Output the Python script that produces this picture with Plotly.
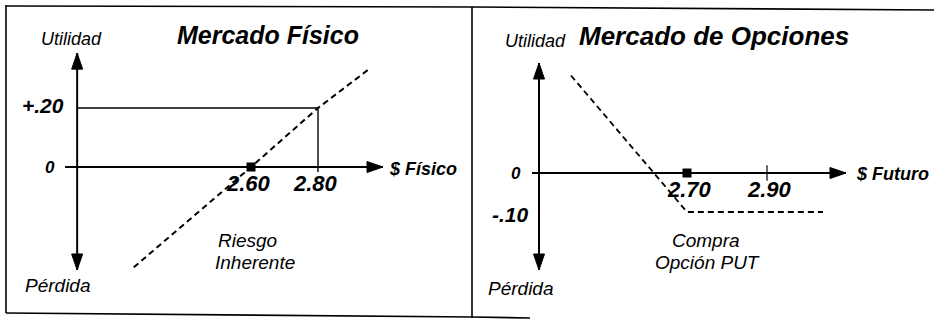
import plotly.graph_objects as go

# ---------------- data ----------------
# Mercado Físico: utility vs physical price (dashed line)
fis_price = [2.25, 2.60, 2.80, 2.95]
fis_pnl = [-0.34, 0.00, 0.20, 0.33]
fis_ticks = [2.60, 2.80]
fis_tick_labels = ["2.60", "2.80"]
fis_level = 0.20
fis_level_label = "+.20"
fis_mark = 2.60

# Mercado de Opciones: bought PUT payoff
opt_price = [2.41, 2.70, 3.04]
opt_pnl = [0.25, -0.10, -0.10]
opt_ticks = [2.70, 2.90]
opt_tick_labels = ["2.70", "2.90"]
opt_level = -0.10
opt_level_label = "-.10"
opt_mark = 2.70

# ---------------- layout constants ----------------
W, H = 934, 320
FONT = "Liberation Sans, Arial, Helvetica, sans-serif"

# axis ranges (both panels overlay whole figure)
X1 = [1.8507, 4.6388]; Y1 = [-0.5186, 0.5661]
X2 = [0.9825, 3.3175]; Y2 = [-0.3769, 0.4436]

# axis-cross positions (in data units of each panel)
L_AX_X, L_AX_X0, L_AX_X1 = 2.081, 2.045, 2.994
L_AX_Y0, L_AX_Y1 = -0.349, 0.386
R_AX_X, R_AX_X0, R_AX_X1 = 2.33, 2.3125, 3.0975
R_AX_Y0, R_AX_Y1 = -0.2487, 0.282

def px(x):
    return x / W

def py(y):
    return 1 - y / H

fig = go.Figure()

dash = "6px,4px"
fig.add_trace(go.Scatter(x=fis_price, y=fis_pnl, mode="lines",
                         line=dict(color="black", width=2, dash=dash),
                         xaxis="x", yaxis="y", hoverinfo="skip"))
fig.add_trace(go.Scatter(x=[fis_mark], y=[0], mode="markers",
                         marker=dict(symbol="square", size=9, color="black"),
                         xaxis="x", yaxis="y", hoverinfo="skip"))
fig.add_trace(go.Scatter(x=opt_price, y=opt_pnl, mode="lines",
                         line=dict(color="black", width=1.8, dash=dash),
                         xaxis="x2", yaxis="y2", hoverinfo="skip"))
fig.add_trace(go.Scatter(x=[opt_mark], y=[0], mode="markers",
                         marker=dict(symbol="square", size=9, color="black"),
                         xaxis="x2", yaxis="y2", hoverinfo="skip"))

shapes = []
LW = 1.8

def line(x0, y0, x1, y1, xref, yref, w=LW):
    shapes.append(dict(type="line", x0=x0, y0=y0, x1=x1, y1=y1, xref=xref, yref=yref,
                       line=dict(color="black", width=w)))

def head(x, y, xref, yref, direction):
    paths = {
        "up": "M0,0 L-5.5,-16 L5.5,-16 Z",
        "down": "M0,0 L-5.5,16 L5.5,16 Z",
        "right": "M0,0 L-16,5.5 L-16,-5.5 Z",
    }
    shapes.append(dict(type="path", path=paths[direction], xref=xref, yref=yref,
                       xsizemode="pixel", ysizemode="pixel", xanchor=x, yanchor=y,
                       fillcolor="black", line=dict(color="black", width=1)))

# frame (paper coordinates)
line(px(6), py(5), px(6), py(313), "paper", "paper", 1.6)
line(px(6), py(6), px(472), py(7), "paper", "paper", 1.6)
line(px(472), py(7), px(934), py(10), "paper", "paper", 1.6)
line(px(472), py(7), px(472), py(318), "paper", "paper", 1.6)
line(px(6), py(313), px(472), py(317), "paper", "paper", 1.6)
line(px(472), py(317), px(530), py(318), "paper", "paper", 1.6)

# left axes
line(L_AX_X, L_AX_Y0, L_AX_X, L_AX_Y1, "x", "y", 2)
line(L_AX_X0, 0, L_AX_X1, 0, "x", "y", 2)
head(L_AX_X, L_AX_Y1, "x", "y", "up")
head(L_AX_X, L_AX_Y0, "x", "y", "down")
head(L_AX_X1, 0, "x", "y", "right")
# +.20 guide lines
line(L_AX_X, fis_level, fis_ticks[1], fis_level, "x", "y", 1.4)
line(fis_ticks[1], fis_level, fis_ticks[1], -0.017, "x", "y", 1.4)

# right axes
line(R_AX_X, R_AX_Y0, R_AX_X, R_AX_Y1, "x2", "y2", 2)
line(R_AX_X0, 0, R_AX_X1, 0, "x2", "y2", 2)
head(R_AX_X, R_AX_Y1, "x2", "y2", "up")
head(R_AX_X, R_AX_Y0, "x2", "y2", "down")
head(R_AX_X1, 0, "x2", "y2", "right")
line(opt_ticks[1], -0.02, opt_ticks[1], 0.02, "x2", "y2", 1.2)

anns = []

def txt(text, x, y, size, bold=False, xanchor="center", xref="paper", yref="paper",
        xshift=0, yshift=0):
    t = f"<b><i>{text}</i></b>" if bold else f"<i>{text}</i>"
    anns.append(dict(text=t, x=x, y=y, xref=xref, yref=yref, showarrow=False,
                     xanchor=xanchor, yanchor="middle", xshift=xshift, yshift=yshift,
                     font=dict(family=FONT, size=size, color="black")))

# left panel text
txt("Mercado Físico", px(175), py(35), 25, True, "left")
txt("Utilidad", px(71), py(39), 18)
txt("Pérdida", px(58), py(285), 19)
txt("$ Físico", px(387), py(169), 18, True, xanchor="left")
txt("Riesgo", px(247), py(240), 19)
txt("Inherente", px(255), py(262), 19)
txt(fis_level_label, L_AX_X, fis_level, 21, True, "right", "x", "y", xshift=-11, yshift=3)
txt("0", L_AX_X, 0, 17, True, "right", "x", "y", xshift=-20)
for v, lab in zip(fis_ticks, fis_tick_labels):
    txt(lab, v, 0, 22, True, "center", "x", "y", xshift=-3, yshift=-16)

# right panel text
txt("Mercado de Opciones", px(577), py(36), 26, True, "left")
txt("Utilidad", px(535), py(41), 18)
txt("Pérdida", px(521), py(288), 19)
txt("$ Futuro", px(854), py(174), 18, True, xanchor="left")
txt("Compra", px(706), py(240), 19)
txt("Opción PUT", px(707), py(262), 19)
txt(opt_level_label, R_AX_X, opt_level, 21, True, "right", "x2", "y2", xshift=-8, yshift=-2)
txt("0", R_AX_X, 0, 17, True, "right", "x2", "y2", xshift=-16)
for v, lab in zip(opt_ticks, opt_tick_labels):
    txt(lab, v, 0, 22, True, "center", "x2", "y2", xshift=2, yshift=-16)

ax_common = dict(visible=False, showgrid=False, zeroline=False, fixedrange=True)
fig.update_layout(
    width=W, height=H,
    margin=dict(l=0, r=0, t=0, b=0),
    paper_bgcolor="white", plot_bgcolor="white",
    showlegend=False,
    xaxis=dict(domain=[0, 1], range=X1, **ax_common),
    yaxis=dict(domain=[0, 1], range=Y1, **ax_common),
    xaxis2=dict(domain=[0, 1], range=X2, overlaying="x", **ax_common),
    yaxis2=dict(domain=[0, 1], range=Y2, overlaying="y", anchor="x2", **ax_common),
    shapes=shapes,
    annotations=anns,
)
fig.update_traces(cliponaxis=False)

fig.write_html("out.html", config={"displayModeBar": False},
               post_script="document.body.style.margin='0';document.body.style.overflow='hidden';")
